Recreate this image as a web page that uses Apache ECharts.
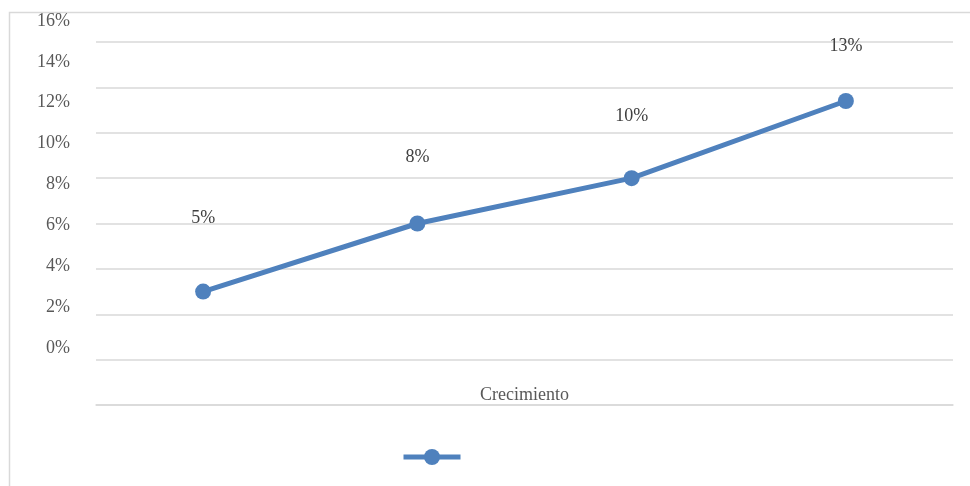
<!DOCTYPE html>
<html>
<head>
<meta charset="utf-8">
<script src="https://cdn.jsdelivr.net/npm/echarts@6/dist/echarts.min.js"></script>
<style>
  html, body { margin: 0; padding: 0; background: #fff; }
  #chart { width: 970px; height: 486px; }
</style>
</head>
<body>
<div id="chart"></div>
<script>
// Growth rate per period (percent)
const categories = ['1', '2', '3', '4'];
const growth = [5, 8, 10, 13.4];
const seriesName = 'Crecimiento';
const axisTitle = 'Crecimiento';
const yTicks = { min: 0, max: 16, step: 2 };

const fontFamily = '"Liberation Serif", "DejaVu Serif", serif';
const pct = v => Math.round(v) + '%';

const chart = echarts.init(document.getElementById('chart'), null, { renderer: 'canvas' });

chart.setOption({
  animation: false,
  backgroundColor: '#ffffff',
  textStyle: { fontFamily: fontFamily },
  graphic: [{
    type: 'rect',
    shape: { x: 9.5, y: 12.5, width: 1000, height: 600 },
    style: { fill: 'none', stroke: '#d9d9d9', lineWidth: 1.5 },
    silent: true,
    z: -1
  }],
  legend: {
    data: [seriesName],
    left: 396,
    top: 442,
    itemWidth: 57,
    itemHeight: 20,
    lineStyle: { width: 5 },
    formatter: () => '',
    selectedMode: false
  },
  grid: [
    // plotting area with gridlines
    { left: 96, right: 17, top: 42, bottom: 81 },
    // scale that carries the tick labels and value labels
    { left: 96, right: 17, top: 21, bottom: 138 }
  ],
  xAxis: [
    {
      type: 'category', gridIndex: 0, data: categories, boundaryGap: true,
      axisLine: { show: true, lineStyle: { color: '#d9d9d9', width: 1.5 } },
      axisTick: { show: false },
      axisLabel: { show: false },
      name: axisTitle,
      nameLocation: 'middle',
      nameGap: -19,
      nameTextStyle: { color: '#595959', fontSize: 18, fontFamily: fontFamily }
    },
    {
      type: 'category', gridIndex: 1, data: categories, boundaryGap: true,
      show: false
    }
  ],
  yAxis: [
    {
      type: 'value', gridIndex: 0, min: yTicks.min, max: yTicks.max, interval: yTicks.step,
      axisLine: { show: false }, axisTick: { show: false }, axisLabel: { show: false },
      splitLine: { show: true, lineStyle: { color: '#d9d9d9', width: 1.5 } }
    },
    {
      type: 'value', gridIndex: 1, min: yTicks.min, max: yTicks.max, interval: yTicks.step,
      axisLine: { show: false }, axisTick: { show: false },
      splitLine: { show: false },
      axisLabel: {
        margin: 26,
        color: '#595959', fontSize: 18, fontFamily: fontFamily,
        formatter: v => v + '%'
      }
    }
  ],
  series: [
    {
      name: seriesName,
      type: 'line',
      xAxisIndex: 0, yAxisIndex: 0,
      data: growth,
      symbol: 'circle',
      symbolSize: 16,
      itemStyle: { color: '#4f81bd' },
      lineStyle: { color: '#4f81bd', width: 5 },
      label: { show: false },
      z: 3
    },
    {
      name: 'valores',
      type: 'line',
      xAxisIndex: 1, yAxisIndex: 1,
      data: growth,
      symbol: 'circle',
      symbolSize: 1,
      showSymbol: true,
      itemStyle: { color: 'rgba(0,0,0,0)' },
      lineStyle: { width: 0, color: 'rgba(0,0,0,0)' },
      silent: true,
      label: {
        show: true,
        position: 'top',
        distance: 18,
        color: '#404040',
        fontSize: 18,
        fontFamily: fontFamily,
        formatter: p => pct(p.value)
      },
      z: 4
    }
  ]
});
</script>
</body>
</html>
